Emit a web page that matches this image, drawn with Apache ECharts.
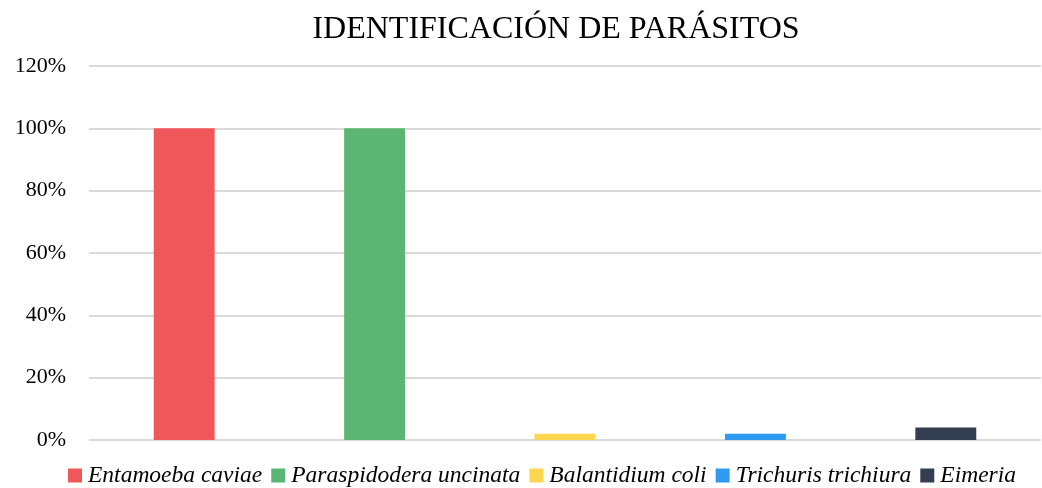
<!DOCTYPE html>
<html>
<head>
<meta charset="utf-8">
<script src="https://cdn.jsdelivr.net/npm/echarts@6/dist/echarts.min.js"></script>
<style>
  html, body { margin: 0; padding: 0; background: #fff; }
  #chart { width: 1042px; height: 488px; }
</style>
</head>
<body>
<div id="chart"></div>
<script>
// parasite names (one bar each)
const categories = ['Entamoeba caviae', 'Paraspidodera uncinata', 'Balantidium coli', 'Trichuris trichiura', 'Eimeria']
// percentage of samples
const values = [100, 100, 2, 2, 4]
const colors = ['#F0575B', '#5BB673', '#FDD650', '#2F9BF0', '#333F50']
const yTicks = { min: 0, max: 120, interval: 20 }

const chart = echarts.init(document.getElementById('chart'))

// one series per parasite so the legend lists each; stacked so every bar sits centered in its slot
const series = categories.map((name, i) => ({
  name,
  type: 'bar',
  stack: 'all',
  barWidth: '32%',
  data: values.map((v, j) => (j === i ? v : '-')),
  itemStyle: { color: colors[i] },
}))

chart.setOption({
  backgroundColor: '#fff',
  animation: false,
  title: {
    text: 'IDENTIFICACIÓN DE PARÁSITOS',
    left: 551,
    textAlign: 'center',
    top: 9,
    textStyle: {
      fontFamily: 'Liberation Serif',
      fontSize: 32,
      fontWeight: 'normal',
      color: '#000',
    },
  },
  legend: {
    left: 63,
    top: 459,
    itemWidth: 14,
    itemHeight: 14,
    itemGap: 9,
    icon: 'rect',
    textStyle: {
      fontFamily: 'Liberation Serif',
      fontStyle: 'italic',
      fontSize: 23.5,
      color: '#000',
      padding: [0, 0, 0, 1],
    },
  },
  grid: { left: 89, right: 1, top: 66, bottom: 48 },
  xAxis: {
    type: 'category',
    data: categories,
    axisLine: { show: false },
    axisTick: { show: false },
    axisLabel: { show: false },
  },
  yAxis: {
    type: 'value',
    min: yTicks.min,
    max: yTicks.max,
    interval: yTicks.interval,
    axisLine: { show: false },
    axisTick: { show: false },
    axisLabel: {
      formatter: '{value}%',
      margin: 23,
      fontFamily: 'Liberation Serif',
      fontSize: 22,
      color: '#000',
    },
    splitLine: { lineStyle: { color: '#d9d9d9', width: 2 } },
  },
  series,
})
</script>
</body>
</html>
